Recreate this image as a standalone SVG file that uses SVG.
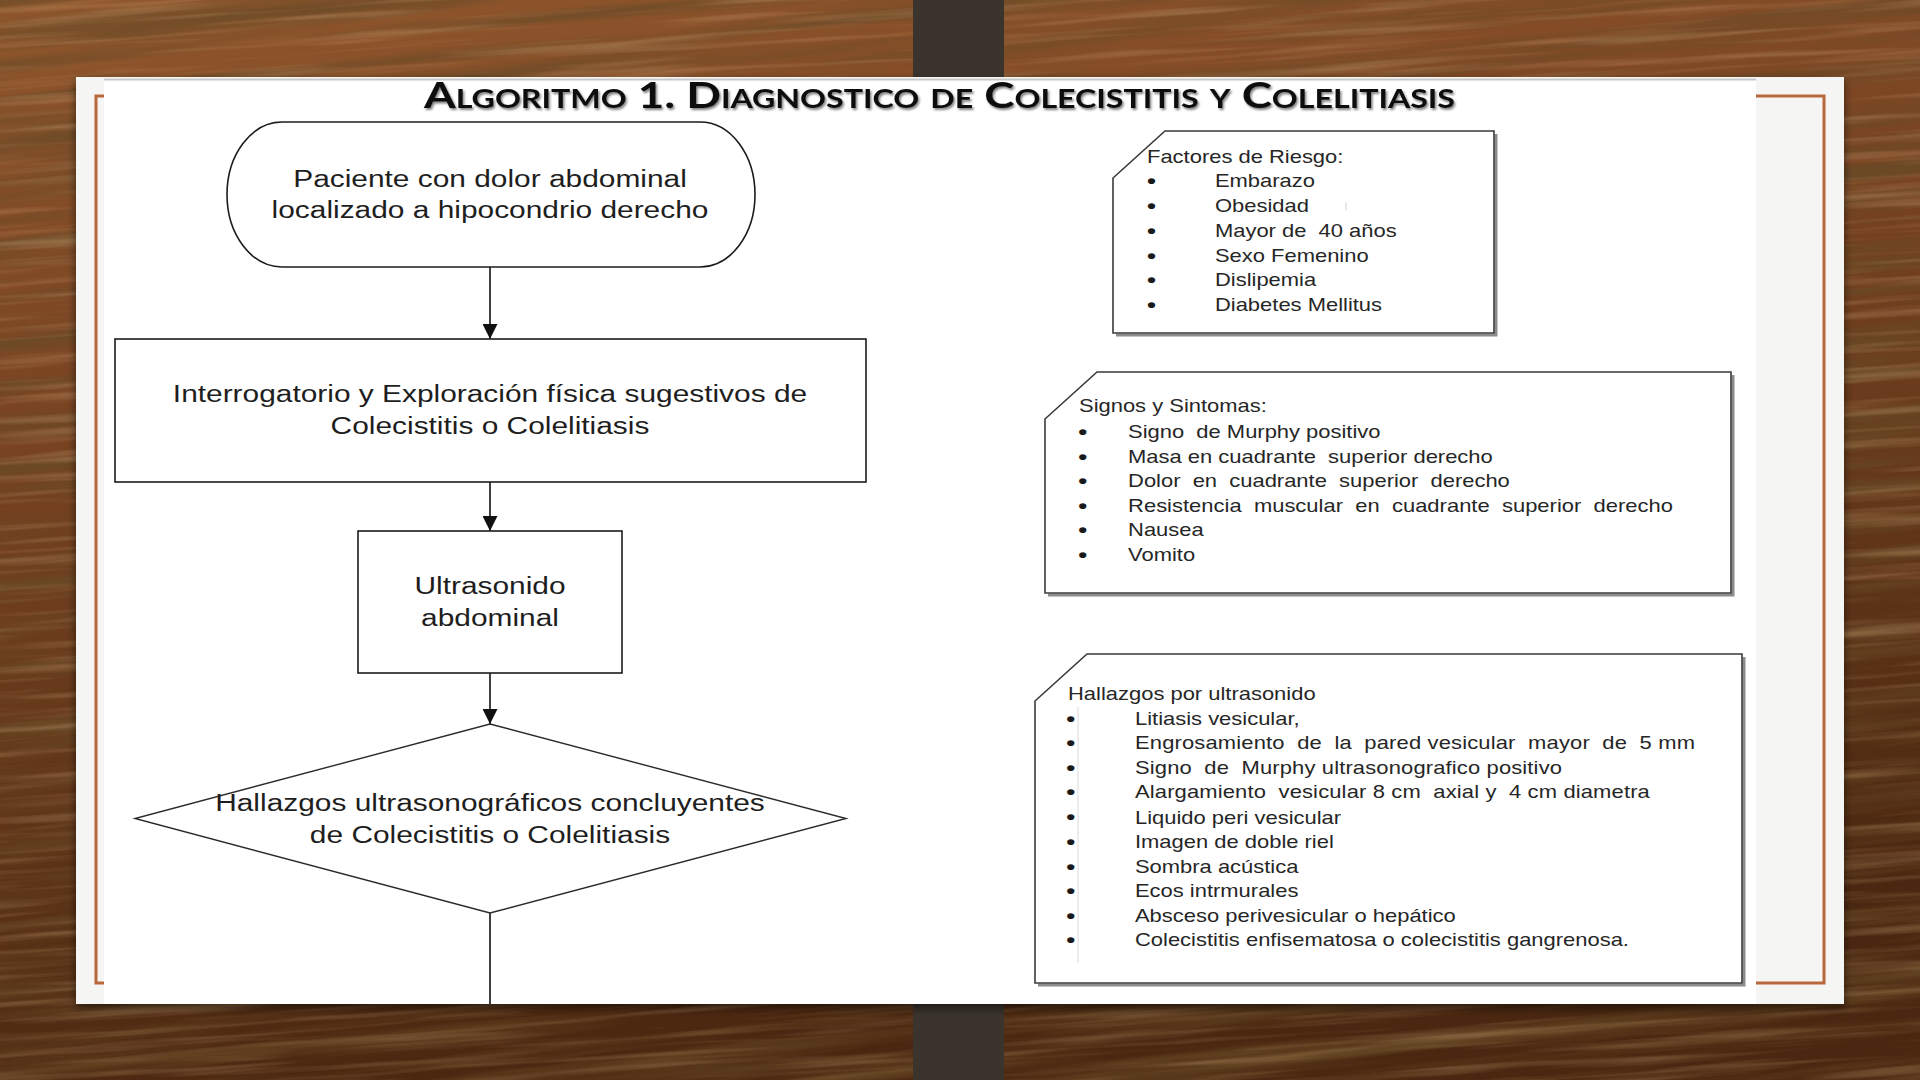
<svg xmlns="http://www.w3.org/2000/svg" width="1920" height="1080" viewBox="0 0 1920 1080">
<defs>
<linearGradient id="wood" x1="0" y1="0" x2="0.25" y2="1">
<stop offset="0" stop-color="#90572d"/>
<stop offset="0.3" stop-color="#7e4724"/>
<stop offset="0.7" stop-color="#603518"/>
<stop offset="1" stop-color="#4a2710"/>
</linearGradient>
<filter id="grain" x="0" y="0" width="1" height="1">
<feTurbulence type="fractalNoise" baseFrequency="0.002 0.05" numOctaves="4" seed="7" result="n"/>
<feColorMatrix in="n" type="matrix" values="0 0 0 0 0.14  0 0 0 0 0.07  0 0 0 0 0.02  2.6 0 0 0 -1.05"/>
</filter>
<filter id="grain2" x="0" y="0" width="1" height="1">
<feTurbulence type="fractalNoise" baseFrequency="0.004 0.12" numOctaves="3" seed="21" result="n"/>
<feColorMatrix in="n" type="matrix" values="0 0 0 0 0.74  0 0 0 0 0.47  0 0 0 0 0.25  2.2 0 0 0 -1.05"/>
</filter>
<filter id="pshadow" x="-5%" y="-5%" width="110%" height="115%">
<feDropShadow dx="0" dy="4" stdDeviation="5" flood-color="#000" flood-opacity="0.55"/>
</filter>
<filter id="tshadow" x="-2%" y="-30%" width="104%" height="160%">
<feDropShadow dx="1.5" dy="2" stdDeviation="1.3" flood-color="#000" flood-opacity="0.5"/>
</filter>
<marker id="arrow" viewBox="0 0 10 10" refX="10" refY="5" markerWidth="17" markerHeight="15" markerUnits="userSpaceOnUse" orient="auto">
<path d="M0 0 L10 5 L0 10 Z" fill="#111"/>
</marker>
<style>
.flow{font-family:"Liberation Sans",Arial,sans-serif;font-size:24.5px;fill:#1e1e1e;text-anchor:middle}
.box{font-family:"Liberation Sans",Arial,sans-serif;font-size:18px;fill:#262626;white-space:pre}
.bul{font-family:"Liberation Sans",Arial,sans-serif;font-size:21px;font-weight:bold;fill:#1a1a1a}
.shape{fill:#fff;stroke:#1c1c1c;stroke-width:1.6}
.card{fill:#fff;stroke:#3a3a3a;stroke-width:1.6}
.cardsh{fill:none;stroke:#8c8c8c;stroke-width:3}
.conn{fill:none;stroke:#111;stroke-width:1.6}
</style>
</defs>

<g id="background">
<rect x="0" y="0" width="1920" height="1080" fill="url(#wood)"/>
<rect x="-200" y="-200" width="2320" height="1480" fill="#000" filter="url(#grain)" opacity="0.8" transform="rotate(-6 960 540)"/>
<rect x="-200" y="-200" width="2320" height="1480" fill="#000" filter="url(#grain2)" opacity="0.35" transform="rotate(-4 960 540)"/>
<rect x="913" y="0" width="91" height="80" fill="#3b342d"/>
<rect x="913" y="1000" width="91" height="80" fill="#3b342d"/>
<rect x="76" y="77" width="1768" height="927" fill="#f5f5f4" filter="url(#pshadow)"/>
<rect x="96" y="96" width="1728" height="887" fill="none" stroke="#b8683c" stroke-width="3"/>
<rect x="104" y="78" width="1652" height="926" fill="#ffffff"/>
<line x1="104" y1="79.5" x2="1756" y2="79.5" stroke="#c8c8c8" stroke-width="2"/>
</g>

<g id="title">
<text x="424" y="108" textLength="1031" lengthAdjust="spacingAndGlyphs" filter="url(#tshadow)" style="font-family:Lato,'Open Sans',sans-serif;font-weight:700;font-size:37px;font-variant:small-caps;fill:#111">Algoritmo 1. Diagnostico de Colecistitis y Colelitiasis</text>
</g>

<g id="connectors">
<path class="conn" d="M490 267 L490 339" marker-end="url(#arrow)"/>
<path class="conn" d="M490 482 L490 531" marker-end="url(#arrow)"/>
<path class="conn" d="M490 673 L490 724" marker-end="url(#arrow)"/>
<path class="conn" d="M490 913 L490 1004"/>
</g>

<g id="node-start">
<rect class="shape" x="227" y="122" width="528" height="145" rx="55" ry="72.5"/>
<text class="flow" transform="matrix(1.22 0 0 1 490 0)" x="0" y="187">Paciente con dolor abdominal</text>
<text class="flow" transform="matrix(1.22 0 0 1 490 0)" x="0" y="218">localizado a hipocondrio derecho</text>
</g>

<g id="node-interrogatorio">
<rect class="shape" x="115" y="339" width="751" height="143"/>
<text class="flow" transform="matrix(1.22 0 0 1 490 0)" x="0" y="402">Interrogatorio y Exploración física sugestivos de</text>
<text class="flow" transform="matrix(1.22 0 0 1 490 0)" x="0" y="434">Colecistitis o Colelitiasis</text>
</g>

<g id="node-ultrasonido">
<rect class="shape" x="358" y="531" width="264" height="142"/>
<text class="flow" transform="matrix(1.22 0 0 1 490 0)" x="0" y="594">Ultrasonido</text>
<text class="flow" transform="matrix(1.22 0 0 1 490 0)" x="0" y="626">abdominal</text>
</g>

<g id="node-decision">
<path class="shape" d="M490 724 L846 818.5 L490 913 L135 818.5 Z" style="stroke:#2a2a2a;stroke-width:1.4"/>
<text class="flow" transform="matrix(1.22 0 0 1 490 0)" x="0" y="811">Hallazgos ultrasonográficos concluyentes</text>
<text class="flow" transform="matrix(1.22 0 0 1 490 0)" x="0" y="843">de Colecistitis o Colelitiasis</text>
</g>

<g id="node-factores">
<path class="cardsh" d="M1496 134 L1496 335 L1116 335"/>
<path class="card" d="M1165 131 L1494 131 L1494 333 L1113 333 L1113 178 Z"/>
<line x1="1346" y1="202" x2="1346" y2="210" stroke="#d4d4d4" stroke-width="1"/>
<g transform="matrix(1.22 0 0 1 1147 0)">
<text class="box" x="0" y="163.5">Factores de Riesgo:</text>
<text class="bul" x="0" y="188.5">•</text><text class="box" x="55.7" y="187.5">Embarazo</text>
<text class="bul" x="0" y="213.5">•</text><text class="box" x="55.7" y="212.5">Obesidad</text>
<text class="bul" x="0" y="238.5">•</text><text class="box" x="55.7" y="237.5">Mayor de  40 años</text>
<text class="bul" x="0" y="263.5">•</text><text class="box" x="55.7" y="262.5">Sexo Femenino</text>
<text class="bul" x="0" y="287.5">•</text><text class="box" x="55.7" y="286.5">Dislipemia</text>
<text class="bul" x="0" y="312.5">•</text><text class="box" x="55.7" y="311.5">Diabetes Mellitus</text>
</g>
</g>

<g id="node-signos">
<path class="cardsh" d="M1733 375 L1733 595 L1048 595"/>
<path class="card" d="M1097 372 L1731 372 L1731 593 L1045 593 L1045 419 Z"/>
<g transform="matrix(1.22 0 0 1 1079 0)">
<text class="box" x="0" y="412.5">Signos y Sintomas:</text>
<text class="bul" x="-0.6" y="439.5">•</text><text class="box" x="40.2" y="438.5">Signo  de Murphy positivo</text>
<text class="bul" x="-0.6" y="464">•</text><text class="box" x="40.2" y="463">Masa en cuadrante  superior derecho</text>
<text class="bul" x="-0.6" y="488.5">•</text><text class="box" x="40.2" y="487.5">Dolor  en  cuadrante  superior  derecho</text>
<text class="bul" x="-0.6" y="513">•</text><text class="box" x="40.2" y="512" textLength="446.7">Resistencia  muscular  en  cuadrante  superior  derecho</text>
<text class="bul" x="-0.6" y="537.5">•</text><text class="box" x="40.2" y="536.5">Nausea</text>
<text class="bul" x="-0.6" y="562">•</text><text class="box" x="40.2" y="561">Vomito</text>
</g>
</g>

<g id="node-hallazgos">
<path class="cardsh" d="M1744 657 L1744 985 L1038 985"/>
<path class="card" d="M1087 654 L1742 654 L1742 983 L1035 983 L1035 701 Z"/>
<line x1="1078" y1="707" x2="1078" y2="963" stroke="#dcdcdc" stroke-width="1"/>
<g transform="matrix(1.22 0 0 1 1068 0)">
<text class="box" x="0" y="700.5">Hallazgos por ultrasonido</text>
<text class="bul" x="-1.5" y="726.5">•</text><text class="box" x="54.9" y="725.5">Litiasis vesicular,</text>
<text class="bul" x="-1.5" y="750.5">•</text><text class="box" x="54.9" y="749.5" textLength="459">Engrosamiento  de  la  pared vesicular  mayor  de  5 mm</text>
<text class="bul" x="-1.5" y="775.5">•</text><text class="box" x="54.9" y="774.5" textLength="350">Signo  de  Murphy ultrasonografico positivo</text>
<text class="bul" x="-1.5" y="799.5">•</text><text class="box" x="54.9" y="798.5" textLength="422">Alargamiento  vesicular 8 cm  axial y  4 cm diametra</text>
<text class="bul" x="-1.5" y="824.5">•</text><text class="box" x="54.9" y="823.5">Liquido peri vesicular</text>
<text class="bul" x="-1.5" y="849.5">•</text><text class="box" x="54.9" y="848.5">Imagen de doble riel</text>
<text class="bul" x="-1.5" y="874">•</text><text class="box" x="54.9" y="873">Sombra acústica</text>
<text class="bul" x="-1.5" y="898.5">•</text><text class="box" x="54.9" y="897.5">Ecos intrmurales</text>
<text class="bul" x="-1.5" y="923">•</text><text class="box" x="54.9" y="922">Absceso perivesicular o hepático</text>
<text class="bul" x="-1.5" y="947.5">•</text><text class="box" x="54.9" y="946.5">Colecistitis enfisematosa o colecistitis gangrenosa.</text>
</g>
</g>
</svg>
